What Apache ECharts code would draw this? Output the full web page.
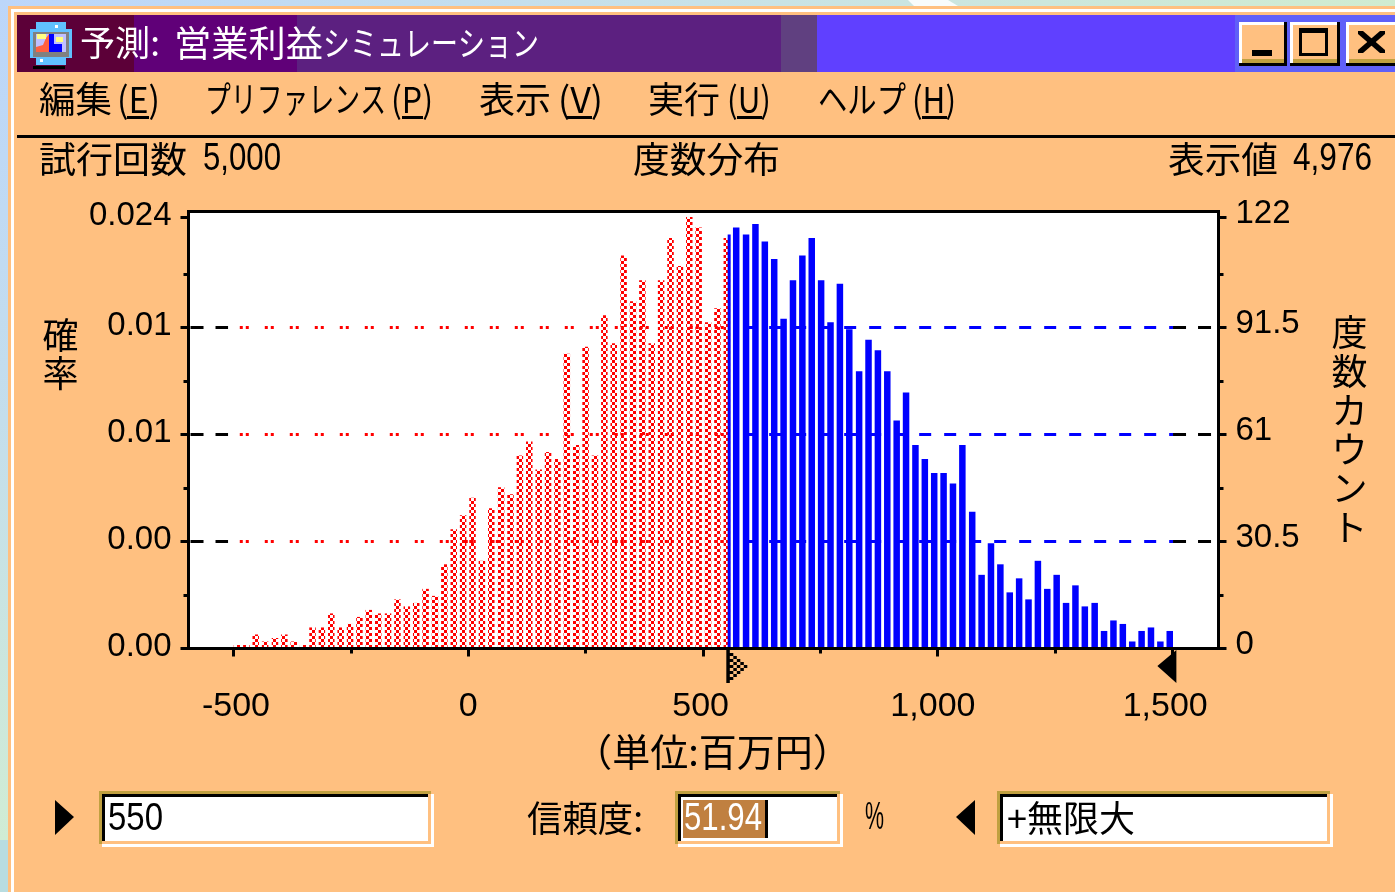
<!DOCTYPE html>
<html>
<head>
<meta charset="utf-8">
<title>予測: 営業利益シミュレーション</title>
<style>
  html, body { margin: 0; padding: 0; background: #ffc080; }
  #main { width: 1395px; height: 892px; }
</style>
<script src="https://cdn.jsdelivr.net/npm/echarts@6/dist/echarts.min.js"></script>
</head>
<body>
<div id="main"></div>
<script>
// bin positions and counts
var redBins = [-493, -473, -453, -433, -412, -392, -372, -352, -332, -312,
  -292, -272, -252, -232, -212, -192, -171, -151, -131, -111,
  -91, -71, -51, -31, -11, 9, 29, 49, 70, 90,
  110, 130, 150, 170, 190, 210, 230, 250, 270, 290,
  310, 331, 351, 371, 391, 411, 431, 451, 471, 491,
  511, 531, 551];
var redCounts = [1, 1, 4, 2, 3, 4, 2, 1, 6, 6,
  10, 6, 7, 9, 11, 10, 10, 14, 12, 13,
  17, 15, 24, 34, 38, 43, 25, 40, 46, 44,
  55, 59, 51, 56, 54, 84, 58, 86, 55, 95,
  87, 112, 99, 105, 87, 105, 117, 109, 123, 120,
  93, 97, 117];
var blueBins = [571, 592, 612, 632, 652, 672, 692, 712, 732, 752,
  772, 792, 812, 833, 853, 873, 893, 913, 933, 953,
  973, 993, 1013, 1033, 1053, 1074, 1094, 1114, 1134, 1154,
  1174, 1194, 1214, 1234, 1254, 1274, 1294, 1314, 1335, 1355,
  1375, 1395, 1415, 1435, 1455, 1475, 1495];
var blueCounts = [120, 118, 121, 116, 111, 94, 105, 112, 117, 105,
  93, 104, 91, 79, 88, 85, 79, 65, 73, 58,
  54, 50, 50, 47, 58, 39, 21, 30, 24, 16,
  20, 14, 25, 17, 21, 13, 18, 12, 13, 5,
  8, 7, 2, 5, 6, 2, 5];
// the bin that sits on the 550 boundary is half red, half blue
var splitBin = [556];
var splitCount = [118];

var xTickValues = [-500, 0, 500, 1000, 1500];
var xTickLabels = ['-500', '0', '500', '1,000', '1,500'];
var xMinorTicks = [-250, 250, 750, 1250];
var yTickValues = [0, 30.5, 61, 91.5, 122.8];
var leftTickLabels = ['0.00', '0.00', '0.01', '0.01', '0.024'];
var rightTickLabels = ['0', '30.5', '61', '91.5', '122'];
var yMinorTicks = [15.25, 45.75, 76.25, 106.75];
var gridLevels = [30.5, 61, 91.5];

var xMin = -596.3, xMax = 1598.9, yMax = 124.57;
// the printed x labels run a little tighter than the ticks in the original
var xLabelMin = -602.2, xLabelMax = 1614.7;
var lowerBound = 551, upperBound = 1508;

var PEACH = '#ffc080', GOLD = '#c0a040', JP = '"Noto Sans CJK JP"', SANS = '"Liberation Sans"';

function dither(color) {
  var c = document.createElement('canvas');
  c.width = c.height = 6;
  var g = c.getContext('2d');
  g.fillStyle = color;
  g.fillRect(0, 0, 3, 3);
  g.fillRect(3, 3, 3, 3);
  return { image: c, repeat: 'repeat' };
}

// dithered lower-bound arrow as a symbol path: left edge plus checker squares
function ditherArrowPath() {
  var d = 'M0 0h3v33h-3z';
  for (var row = 0; row < 11; row++) {
    var cols = 6 - Math.abs(row - 5);
    for (var col = 1; col <= cols; col++) {
      if ((row + col) % 2 === 0) {
        d += 'M' + col * 3 + ' ' + row * 3 + 'h3v3h-3z';
      }
    }
  }
  return 'path://' + d;
}

function pairs(xs, ys) {
  return xs.map(function (x, i) { return [x, ys[i]]; });
}

function rect(x, y, w, h, fill) {
  return { type: 'rect', silent: true, shape: { x: x, y: y, width: w, height: h }, style: { fill: fill } };
}

function poly(points, fill) {
  return { type: 'polygon', silent: true, shape: { points: points }, style: { fill: fill } };
}

var measure = document.createElement('canvas').getContext('2d');

// text squeezed into the span x0..x1 like the old bitmap font
function text(str, x0, x1, y, size, fill, family) {
  var font = size + 'px ' + (family || JP);
  measure.font = font;
  return {
    type: 'text', silent: true, x: x0, y: y, scaleX: (x1 - x0) / measure.measureText(str).width,
    style: { text: str, font: font, fill: fill || '#000', textAlign: 'left', textVerticalAlign: 'middle' }
  };
}

function field(x0, x1) {
  return [
    rect(x0 + 3, 794, x1 - x0 - 3, 53, '#fff'),
    rect(x0, 791, x1 - x0 - 3, 53, PEACH),
    rect(x0, 791, x1 - x0 - 3, 3, GOLD),
    rect(x0, 791, 3, 53, GOLD),
    rect(x0 + 3, 794, x1 - x0 - 9, 3, '#000'),
    rect(x0 + 3, 794, 3, 47, '#000'),
    rect(x0 + 6, 797, x1 - x0 - 12, 44, '#fff')
  ];
}

function button(x0, x1) {
  return [
    rect(x0, 22, x1 - x0, 44, '#000'),
    rect(x0, 22, x1 - x0 - 3, 41, '#fff'),
    rect(x0 + 3, 25, x1 - x0 - 6, 38, GOLD),
    rect(x0 + 3, 25, x1 - x0 - 6, 34, PEACH)
  ];
}

var leftGradient = new echarts.graphic.LinearGradient(0, 0, 0, 1, [
  { offset: 0, color: '#bcd6fa' }, { offset: 0.5, color: '#c4deec' }, { offset: 1, color: '#d0ecd4' }
]);
var topGradient = new echarts.graphic.LinearGradient(0, 0, 1, 0, [
  { offset: 0, color: '#bcd6fa' }, { offset: 0.5, color: '#c8e2e8' }, { offset: 1, color: '#d0ecd0' }
]);

var chrome = [
  rect(0, 0, 1395, 6, topGradient),
  poly([[908, 0], [948, 0], [958, 6], [914, 6]], '#f8fcfc'),
  rect(0, 0, 8, 840, leftGradient),
  rect(0, 840, 8, 52, '#b8dce0'),
  rect(11, 9, 1384, 3, '#fff'),
  rect(11, 9, 3, 883, '#fff'),

  rect(17, 15, 117, 57, '#5c0038'),
  rect(134, 15, 163, 57, '#600078'),
  rect(297, 15, 484, 57, '#5c2080'),
  rect(781, 15, 36, 57, '#604080'),
  rect(817, 15, 418, 57, '#6040ff'),
  rect(1235, 15, 160, 57, '#6060f8'),

  // window icon
  rect(36, 22, 30, 43, '#60c0ff'),
  rect(30, 29, 42, 29, '#60c0ff'),
  rect(33, 32, 36, 25, '#808080'),
  rect(36, 34, 30, 18, '#c0c0ff'),
  poly([[36, 52], [36, 47], [43, 45], [46, 38], [49, 34], [49, 52]], '#ff6040'),
  rect(37, 34, 9, 5, '#ffff80'),
  rect(49, 34, 5, 18, '#0000ff'),
  rect(54, 44, 8, 8, '#0000ff'),
  rect(56, 37, 7, 5, '#ffff80'),
  rect(33, 66, 32, 3, '#000'),
  rect(40, 59, 3, 3, '#fff'),
  rect(55, 25, 3, 3, '#fff'),

  text('予測:', 80, 160, 43, 35, '#fff'),
  text('営業利益', 174, 323, 43, 36, '#fff'),
  text('シミュレーション', 323, 539, 43, 34, '#fff')
]
  .concat(button(1239, 1287), button(1290, 1340), button(1346, 1398))
  .concat([
    rect(1252, 50, 20, 6, '#000'),
    rect(1299, 28, 29, 28, '#000'),
    rect(1302, 33, 23, 20, PEACH),
    poly([[1358, 31], [1363, 31], [1385, 50], [1385, 53], [1380, 53], [1358, 34]], '#000'),
    poly([[1380, 31], [1385, 31], [1385, 34], [1363, 53], [1358, 53], [1358, 50]], '#000'),

    text('編集', 39, 112, 99, 36),
    text('(E)', 117, 160, 99, 36),
    rect(127, 116, 22, 3, '#000'),
    text('プリファレンス', 205, 386, 99, 36),
    text('(P)', 391, 433, 99, 36),
    rect(402, 116, 21, 3, '#000'),
    text('表示', 479, 551, 99, 36),
    text('(V)', 558, 603, 99, 36),
    rect(567, 116, 25, 3, '#000'),
    text('実行', 648, 720, 99, 36),
    text('(U)', 727, 771, 99, 36),
    rect(737, 116, 25, 3, '#000'),
    text('ヘルプ', 818, 906, 99, 36),
    text('(H)', 912, 956, 99, 36),
    rect(922, 116, 25, 3, '#000'),

    rect(17, 135, 1378, 3, '#000'),

    text('試行回数', 39, 187, 159, 36),
    text('5,000', 203, 281, 160, 38, '#000', SANS),
    text('度数分布', 633, 780, 159, 36),
    text('表示値', 1168, 1278, 159, 36),
    text('4,976', 1293, 1372, 160, 38, '#000', SANS),

    poly([[55, 800], [74, 817], [55, 835]], '#000'),
    poly([[975, 800], [956, 817], [975, 835]], '#000')
  ])
  .concat(field(99, 434), field(675, 843), field(997, 1333))
  .concat([
    text('550', 108, 163, 820, 38, '#000', SANS),
    rect(683, 800, 82, 38, '#c08040'),
    rect(765, 800, 3, 38, '#000'),
    text('51.94', 684, 762, 820, 38, '#fff', SANS),
    text('信頼度:', 527, 643, 818, 36),
    text('%', 865, 884, 819, 38, '#000', SANS),
    text('+無限大', 1007, 1135, 818, 36)
  ]);

function gridSeries(level, from, to, color, dash) {
  return {
    type: 'line', silent: true, symbol: 'none', z: 2, animation: false,
    data: [[from, level], [to, level]],
    lineStyle: { color: color, width: 3, type: dash }
  };
}

var guideLines = [];
gridLevels.forEach(function (level) {
  guideLines.push(gridSeries(level, -592, -512, '#000', [13, 12]));
  guideLines.push(gridSeries(level, -487, 550, '#ff0000', [3, 3, 3, 16]));
  guideLines.push(gridSeries(level, 588, 1502, '#0000ff', [12, 13]));
  guideLines.push(gridSeries(level, 1502, xMax, '#000', [13, 12]));
});

function hiddenYAxis(position, ticks) {
  return {
    type: 'value', position: position, min: 0, max: yMax,
    splitLine: { show: false }, axisLine: { show: false, onZero: false }, axisLabel: { show: false },
    axisTick: { customValues: ticks, length: 5, lineStyle: { color: '#000', width: 3 } }
  };
}

var chart = echarts.init(document.getElementById('main'), null, { renderer: 'canvas' });
chart.setOption({
  animation: false,
  backgroundColor: PEACH,
  graphic: { elements: chrome },
  grid: { show: true, left: 188.5, right: 176.5, top: 211.5, bottom: 243.5, backgroundColor: '#fff', borderColor: '#000', borderWidth: 3 },
  xAxis: [{
    type: 'value', position: 'bottom', min: xMin, max: xMax, z: 5,
    name: '（単位:百万円）', nameLocation: 'middle', nameGap: 84,
    nameTextStyle: { color: '#000', fontSize: 38, fontFamily: JP, padding: [0, 0, 0, 18] },
    splitLine: { show: false },
    axisLine: { onZero: false, lineStyle: { color: '#000', width: 3 } },
    axisTick: { customValues: xTickValues, length: 8, lineStyle: { color: '#000', width: 3 } },
    axisLabel: { show: false }
  }, {
    type: 'value', position: 'bottom', min: xMin, max: xMax,
    splitLine: { show: false }, axisLine: { show: false, onZero: false }, axisLabel: { show: false },
    axisTick: { customValues: xMinorTicks, length: 5, lineStyle: { color: '#000', width: 3 } }
  }, {
    type: 'value', position: 'bottom', min: xLabelMin, max: xLabelMax,
    splitLine: { show: false }, axisLine: { show: false, onZero: false }, axisTick: { show: false },
    axisLabel: {
      customValues: xTickValues, margin: 41, color: '#000', fontSize: 34, fontFamily: SANS,
      formatter: function (v) { return xTickLabels[xTickValues.indexOf(v)]; }
    }
  }],
  yAxis: [{
    type: 'value', position: 'left', min: 0, max: yMax,
    name: '確\n率\n\n\n\n', nameLocation: 'middle', nameRotate: 0, nameGap: 110,
    nameTextStyle: { color: '#000', fontSize: 36, lineHeight: 38, fontFamily: JP },
    splitLine: { show: false }, axisLine: { show: false, onZero: false },
    axisTick: { customValues: yTickValues, length: 8, lineStyle: { color: '#000', width: 3 } },
    axisLabel: {
      customValues: yTickValues, margin: 17, color: '#000', fontSize: 33, fontFamily: SANS, verticalAlign: 'bottom', lineHeight: 4,
      formatter: function (v) { return leftTickLabels[yTickValues.indexOf(v)]; }
    }
  }, {
    type: 'value', position: 'right', min: 0, max: yMax,
    name: '度\n数\nカ\nウ\nン\nト', nameLocation: 'middle', nameRotate: 0, nameGap: 113,
    nameTextStyle: { color: '#000', fontSize: 36, lineHeight: 39, fontFamily: JP },
    splitLine: { show: false }, axisLine: { show: false, onZero: false },
    axisTick: { customValues: yTickValues, length: 8, lineStyle: { color: '#000', width: 3 } },
    axisLabel: {
      customValues: yTickValues, margin: 17, color: '#000', fontSize: 33, fontFamily: SANS, verticalAlign: 'bottom', lineHeight: 8,
      formatter: function (v) { return rightTickLabels[yTickValues.indexOf(v)]; }
    }
  }, hiddenYAxis('left', yMinorTicks), hiddenYAxis('right', yMinorTicks)],
  series: guideLines.concat([{
    name: '確率', type: 'bar', z: 3, barWidth: 6.5, barGap: '-100%',
    data: pairs(redBins, redCounts),
    itemStyle: { color: dither('#ff0000') },
    markPoint: {
      silent: true, label: { show: false },
      data: [{
        coord: [lowerBound, 0], symbol: ditherArrowPath(), symbolSize: [21, 33], symbolOffset: [10, 18],
        itemStyle: { color: '#000' }
      }, {
        coord: [upperBound, 0], symbol: 'path://M19 0L19 33L0 16Z', symbolSize: [19, 33], symbolOffset: [-9, 18],
        itemStyle: { color: '#000' }
      }]
    }
  }, {
    name: '度数', type: 'bar', z: 3, barWidth: 6.5, barGap: '-100%',
    data: pairs(blueBins, blueCounts),
    itemStyle: { color: '#0000ff' }
  }, {
    name: '度数(境界)', type: 'bar', z: 4, barWidth: 3, xAxisIndex: 1, yAxisIndex: 0,
    data: pairs(splitBin, splitCount),
    itemStyle: { color: '#0000ff' }
  }])
});
</script>
</body>
</html>
